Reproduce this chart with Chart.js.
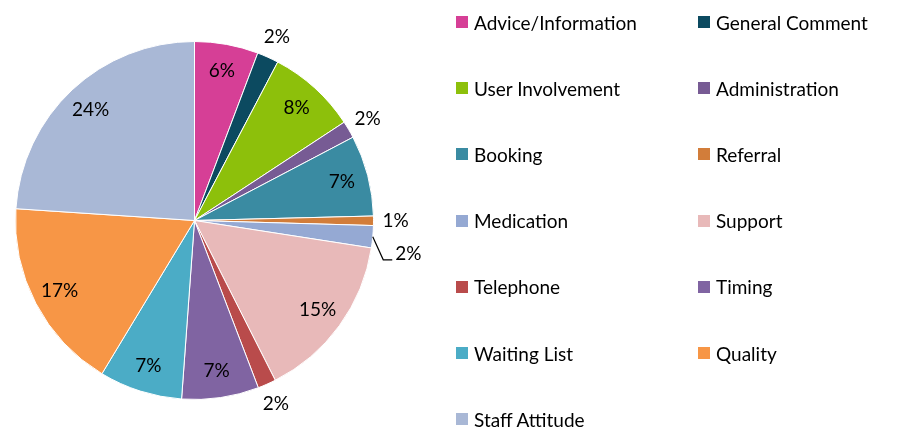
<!DOCTYPE html>
<html>
<head>
<meta charset="utf-8">
<script src="https://cdn.jsdelivr.net/npm/chart.js@4/dist/chart.umd.min.js"></script>
<style>
  html, body { margin: 0; padding: 0; background: #fff; }
  #wrap { position: relative; width: 899px; height: 433px; overflow: hidden; }
  #c { position: absolute; left: 0; top: 0; }
  #legend { position: absolute; left: 0; top: 0; width: 899px; height: 433px; pointer-events: none;
            font-family: Lato, "Liberation Sans", sans-serif; font-size: 19px; color: #000; }
  .item { position: absolute; display: flex; align-items: center; white-space: nowrap; height: 24px; }
  .sw { width: 12px; height: 12px; margin-right: 6px; flex: none; }
</style>
</head>
<body>
<div id="wrap">
  <canvas id="c" width="899" height="433"></canvas>
  <div id="legend"></div>
</div>
<script>
const categories = ["Advice/Information", "General Comment", "User Involvement", "Administration",
  "Booking", "Referral", "Medication", "Support", "Telephone", "Timing",
  "Waiting List", "Quality", "Staff Attitude"];
const values = [5.75, 1.95, 8.05, 1.55, 7.3, 0.85, 2.0, 15.1, 1.65, 6.95, 7.5, 17.4, 23.95];
const colors = ["#D63F96", "#0C4A60", "#8DC00B", "#775B94", "#3A8BA2", "#D27D3A", "#95A9D3",
  "#E8B9B9", "#B94B4B", "#8064A2", "#4BACC6", "#F79646", "#A9B8D6"];

// label styling (not data)
const insideFactor = 0.85;
const outsideGap = 22;
const outsideThreshold = 3;
const leaderShift = { "Medication": { dx: 35, dy: 17 } };
const labelFont = '19px Lato, "Liberation Sans", sans-serif';

const total = values.reduce((a, b) => a + b, 0);

const labelPlugin = {
  id: 'pieLabels',
  afterDatasetsDraw(chart) {
    const ctx = chart.ctx;
    const meta = chart.getDatasetMeta(0);
    ctx.save();
    ctx.font = labelFont;
    ctx.fillStyle = '#000';
    ctx.textAlign = 'center';
    ctx.textBaseline = 'middle';
    meta.data.forEach((arc, i) => {
      const p = arc.getProps(['x', 'y', 'startAngle', 'endAngle', 'outerRadius'], true);
      const mid = (p.startAngle + p.endAngle) / 2;
      const pct = Math.round(values[i] / total * 100) + '%';
      const cos = Math.cos(mid), sin = Math.sin(mid);
      const shift = leaderShift[categories[i]];
      if (shift) {
        const ex = p.x + cos * p.outerRadius, ey = p.y + sin * p.outerRadius;
        const kx = ex + shift.dx * 0.3, ky = ey + shift.dy + 6;
        ctx.strokeStyle = '#000';
        ctx.lineWidth = 1.2;
        ctx.beginPath();
        ctx.moveTo(ex, ey);
        ctx.lineTo(kx, ky);
        ctx.lineTo(kx + 9, ky);
        ctx.stroke();
        ctx.textAlign = 'left';
        ctx.fillText(pct, kx + 12, ey + shift.dy);
        ctx.textAlign = 'center';
      } else if (values[i] / total * 100 < outsideThreshold) {
        const r = p.outerRadius + outsideGap;
        ctx.fillText(pct, p.x + cos * r, p.y + sin * r);
      } else {
        const r = p.outerRadius * insideFactor;
        ctx.fillText(pct, p.x + cos * r, p.y + sin * r);
      }
    });
    ctx.restore();
  }
};

new Chart(document.getElementById('c'), {
  type: 'pie',
  data: {
    labels: categories,
    datasets: [{
      data: values,
      backgroundColor: colors,
      borderColor: '#ffffff',
      borderWidth: 1,
      hoverOffset: 0,
      offset: 0
    }]
  },
  options: {
    responsive: false,
    animation: false,
    events: [],
    layout: { padding: { left: 15, top: 41, right: 525, bottom: 33 } },
    plugins: { legend: { display: false }, tooltip: { enabled: false } }
  },
  plugins: [labelPlugin]
});

// legend
const legend = document.getElementById('legend');
const colX = [456, 698];
const rowY0 = 22, rowStep = 66.2;
categories.forEach((name, i) => {
  const div = document.createElement('div');
  div.className = 'item';
  div.style.left = colX[i % 2] + 'px';
  div.style.top = (rowY0 + Math.floor(i / 2) * rowStep - 12) + 'px';
  const sw = document.createElement('span');
  sw.className = 'sw';
  sw.style.background = colors[i];
  const t = document.createElement('span');
  t.textContent = name;
  div.appendChild(sw);
  div.appendChild(t);
  legend.appendChild(div);
});
</script>
</body>
</html>
